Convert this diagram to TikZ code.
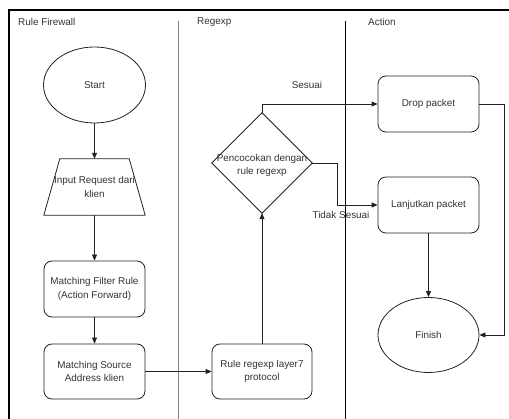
\documentclass[tikz,border=0pt]{standalone}
\usepackage{fontspec}
\setmainfont{Liberation Sans}
\usetikzlibrary{arrows.meta,shapes.geometric}
\definecolor{txt}{HTML}{333333}
\definecolor{ln}{HTML}{222222}
\tikzset{
  base/.style={font=\fontsize{9.9}{13.5}\selectfont, text=txt, align=center, inner sep=0pt},
  rbox/.style={base, draw=ln, line width=0.8pt, rounded corners=8pt, minimum width=101pt, minimum height=56pt},
  oval/.style={base, draw=ln, line width=0.8pt, ellipse, minimum width=102pt, minimum height=76pt},
  ghost/.style={base, draw=none, minimum width=101pt, minimum height=56pt},
  conn/.style={draw=ln, line width=0.8pt},
  arr/.style={conn, -{Triangle[length=6pt,width=5pt]}},
  lanetitle/.style={base, anchor=west},
  lbl/.style={base}
}
\begin{document}
\begin{tikzpicture}[x=1pt,y=-1pt]
\useasboundingbox (0,0) rectangle (509,419);
% frame and lanes
\draw[black, line width=2pt] (9,10) -- (9,419);
\draw[black, line width=1.5pt] (8,10) -- (509,10);
\draw[gray, line width=0.9pt] (178,21) -- (178,419);
\draw[black, line width=0.8pt] (345,21) -- (345,419);
\node[lanetitle] (t1) at (18,22) {Rule Firewall};
\node[lanetitle] (t2) at (197,22) {Regexp};
\node[lanetitle] (t3) at (368,22) {Action};
% nodes
\node[oval] (start) at (94.5,85) {Start};
\node[ghost] (inp) at (94.5,187) {Input Request dari\\klien};
\draw[conn] ([xshift=16pt]inp.north west) -- ([xshift=-16pt]inp.north east) -- (inp.south east) -- (inp.south west) -- cycle;
\node[rbox] (mfr) at (94.5,289) {Matching Filter Rule\\(Action Forward)};
\node[rbox, minimum height=55pt] (msa) at (94.5,371.5) {Matching Source\\Address klien};
\node[rbox, minimum width=100pt, minimum height=55pt] (rr) at (262,371.5) {Rule regexp layer7\\protocol};
\node[base, draw=none, minimum width=100pt, minimum height=100pt] (dec) at (262,163) {};
\draw[conn] (dec.north) -- (dec.east) -- (dec.south) -- (dec.west) -- cycle;
\node[base] (dectext) at (262,165.5) {Pencocokan dengan\\rule regexp};
\node[rbox] (drop) at (428.5,104) {Drop packet};
\node[rbox] (lanj) at (428.5,205) {Lanjutkan packet};
\node[oval, minimum width=101pt, minimum height=75pt] (fin) at (428.5,335) {Finish};
% connectors
\draw[arr] (start) -- (inp.north);
\draw[arr] (inp.south) -- (mfr.north);
\draw[arr] (mfr) -- (msa);
\draw[arr] (msa.east) -- (rr.west);
\draw[arr] (rr.north) -- (dec.south);
\draw[arr] (dec.north) |- (drop.west);
\coordinate (tb) at (337,0);
\draw[arr] (dec.east) -- (dec.east -| tb) -- (tb |- lanj.west) -- (lanj.west);
\draw[arr] (lanj.south) -- (fin.north);
\coordinate (rb) at (504,0);
\draw[arr] (drop.east) -- (drop.east -| rb) -- (rb |- fin.east) -- (fin.east);
% labels
\node[lbl] (l1) at (307,85) {Sesuai};
\node[lbl, fill=white, fill opacity=0, text opacity=1] (l2) at (341,215) {Tidak Sesuai};
\end{tikzpicture}
\end{document}
